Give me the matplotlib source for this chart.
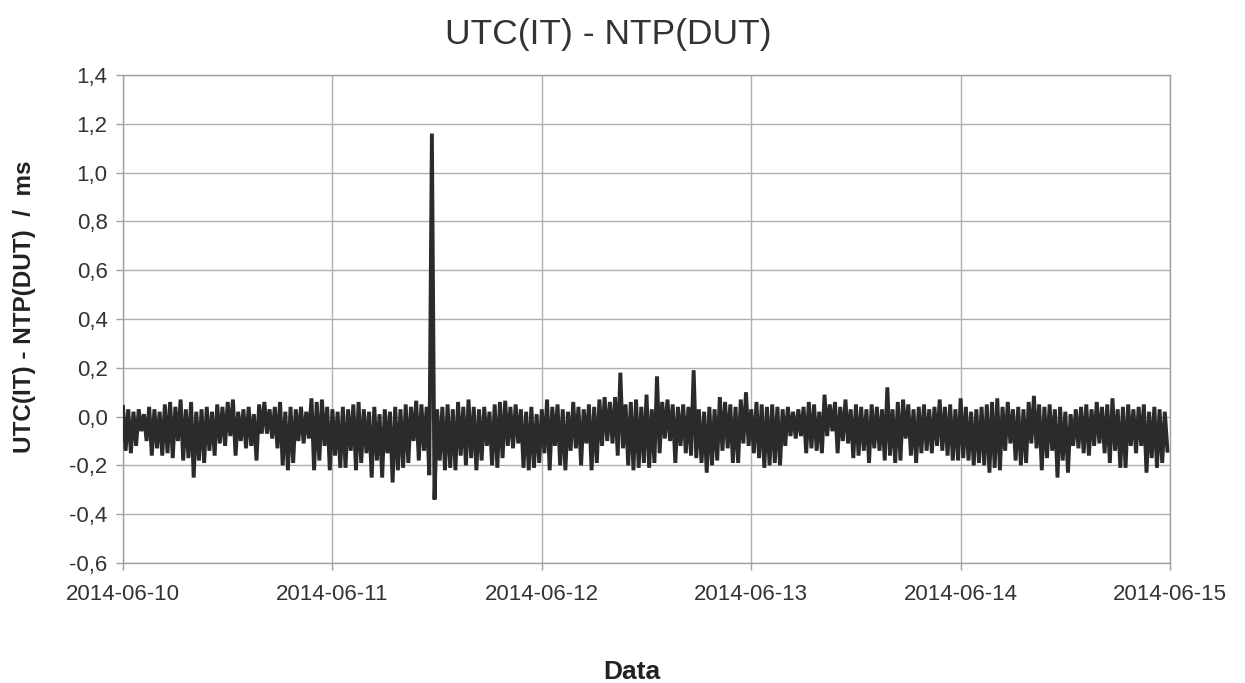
import numpy as np
import matplotlib
matplotlib.use('Agg')
import matplotlib.pyplot as plt
import matplotlib.dates as mdates
from matplotlib.ticker import FuncFormatter

plt.rcParams['font.family'] = ['Liberation Sans', 'DejaVu Sans']

# values, in ms; one upper and one lower sample per 36 min bin
upper = [0.04, 0.03, 0.02, 0.03, 0.01, 0.04, 0.03, 0.02, 0.05, 0.06,
         0.04, 0.07, 0.03, 0.06, 0.02, 0.03, 0.04, 0.02, 0.05, 0.04,
         0.06, 0.07, 0.02, 0.03, 0.04, 0.01, 0.05, 0.06, 0.03, 0.04,
         0.06, 0.02, 0.04,
         0.03, 0.04, 0.02, 0.075, 0.06, 0.07, 0.04, 0.03, 0.02, 0.04,
         0.03, 0.05, 0.06, 0.03, 0.02, 0.04, 0.01, 0.03, 0.02, 0.04,
         0.03, 0.05, 0.04, 0.065, 0.05, 0.04, 1.16, 0.03, 0.04, 0.05,
         0.03, 0.06, 0.04,
         0.07, 0.04, 0.03, 0.04, 0.02, 0.05, 0.06, 0.065, 0.04, 0.05,
         0.03, 0.02, 0.04, 0.01, 0.03, 0.07, 0.04, 0.05, 0.03, 0.02,
         0.06, 0.04, 0.03, 0.05, 0.04, 0.07, 0.08, 0.06, 0.08, 0.18,
         0.05, 0.06, 0.07, 0.04,
         0.09, 0.03, 0.165, 0.06, 0.07, 0.05, 0.04, 0.05, 0.04, 0.19,
         0.03, 0.02, 0.04, 0.03, 0.08, 0.06, 0.05, 0.04, 0.07, 0.10,
         0.03, 0.06, 0.05, 0.04, 0.05, 0.04, 0.03, 0.04, 0.02, 0.03,
         0.04, 0.06, 0.05, 0.02,
         0.09, 0.05, 0.06, 0.04, 0.07, 0.03, 0.05, 0.04, 0.03, 0.05,
         0.04, 0.03, 0.12, 0.03, 0.06, 0.07, 0.05, 0.03, 0.04, 0.05,
         0.03, 0.04, 0.07, 0.04, 0.05, 0.03, 0.075, 0.04, 0.02, 0.03,
         0.04, 0.05, 0.06,
         0.075, 0.04, 0.06, 0.03, 0.04, 0.03, 0.06, 0.085, 0.05, 0.04,
         0.05, 0.03, 0.04, 0.02, 0.01, 0.03, 0.04, 0.05, 0.03, 0.06,
         0.04, 0.05, 0.075, 0.03, 0.04, 0.05, 0.03, 0.04, 0.05, 0.02,
         0.04, 0.03, 0.02]

lower = [-0.14, -0.15, -0.12, -0.06, -0.10, -0.16, -0.13, -0.16, -0.15, -0.17,
         -0.10, -0.18, -0.17, -0.25, -0.18, -0.19, -0.14, -0.16, -0.11, -0.12,
         -0.08, -0.16, -0.10, -0.13, -0.12, -0.18, -0.07, -0.07, -0.09, -0.13,
         -0.20, -0.22, -0.19,
         -0.10, -0.11, -0.09, -0.22, -0.18, -0.12, -0.22, -0.16, -0.21, -0.21,
         -0.14, -0.22, -0.19, -0.15, -0.25, -0.18, -0.25, -0.15, -0.27, -0.22,
         -0.21, -0.19, -0.10, -0.18, -0.14, -0.24, -0.34, -0.18, -0.22, -0.21,
         -0.22, -0.16, -0.20,
         -0.17, -0.22, -0.18, -0.12, -0.20, -0.21, -0.17, -0.12, -0.13, -0.11,
         -0.21, -0.22, -0.21, -0.19, -0.15, -0.22, -0.12, -0.20, -0.22, -0.14,
         -0.13, -0.20, -0.11, -0.22, -0.19, -0.12, -0.10, -0.11, -0.16, -0.13,
         -0.20, -0.22, -0.21, -0.19,
         -0.21, -0.19, -0.15, -0.09, -0.10, -0.19, -0.12, -0.15, -0.16, -0.17,
         -0.19, -0.23, -0.20, -0.18, -0.14, -0.13, -0.19, -0.19, -0.11, -0.12,
         -0.15, -0.17, -0.21, -0.20, -0.19, -0.20, -0.12, -0.08, -0.09, -0.08,
         -0.15, -0.13, -0.14, -0.15,
         -0.08, -0.06, -0.15, -0.10, -0.11, -0.17, -0.16, -0.14, -0.19, -0.13,
         -0.14, -0.18, -0.16, -0.19, -0.18, -0.09, -0.16, -0.19, -0.15, -0.14,
         -0.15, -0.12, -0.14, -0.16, -0.18, -0.18, -0.17, -0.18, -0.20, -0.19,
         -0.20, -0.23, -0.21,
         -0.22, -0.14, -0.11, -0.18, -0.20, -0.19, -0.11, -0.13, -0.22, -0.17,
         -0.14, -0.25, -0.18, -0.23, -0.12, -0.13, -0.15, -0.16, -0.12, -0.11,
         -0.15, -0.19, -0.14, -0.21, -0.21, -0.12, -0.15, -0.12, -0.23, -0.17,
         -0.21, -0.19, -0.14]

start = np.datetime64('2014-06-10T00:00')
bin_minutes = 36
y_ticks = [-0.6, -0.4, -0.2, 0.0, 0.2, 0.4, 0.6, 0.8, 1.0, 1.2, 1.4]
day_ticks = ['2014-06-10', '2014-06-11', '2014-06-12', '2014-06-13', '2014-06-14', '2014-06-15']

# interleave the two samples of every bin into one time series
n = len(upper)
t = []
v = []
for i in range(n):
    t.append(start + np.timedelta64(i * bin_minutes, 'm'))
    v.append(upper[i])
    t.append(start + np.timedelta64(i * bin_minutes + bin_minutes // 2, 'm'))
    v.append(lower[i])
t = np.array(t)

fig = plt.figure(figsize=(12.45, 6.83), dpi=100)
ax = fig.add_axes([0.0988, 0.1757, 0.8410, 0.7145])

ax.plot(t, v, color='#2b2b2b', lw=2.8, solid_joinstyle='miter', zorder=3)

ax.set_ylim(-0.6, 1.4)
ax.set_xlim(np.datetime64(day_ticks[0]), np.datetime64(day_ticks[-1]))
ax.set_yticks(y_ticks)
ax.yaxis.set_major_formatter(FuncFormatter(lambda y, p: ('%.1f' % y).replace('.', ',').replace('-0,0', '0,0')))
ax.set_xticks([np.datetime64(d) for d in day_ticks])
ax.xaxis.set_major_formatter(mdates.DateFormatter('%Y-%m-%d'))

ax.grid(True, color='#b0b0b0', lw=1.0, zorder=0)
for s in ax.spines.values():
    s.set_color('#a0a0a0')
    s.set_linewidth(1.0)
ax.tick_params(axis='both', colors='#a0a0a0', labelcolor='#333333', labelsize=16, length=5, width=1.0)
ax.tick_params(axis='y', pad=6)
ax.tick_params(axis='x', pad=10)

ax.set_ylabel('UTC(IT) - NTP(DUT)  /  ms', fontsize=17.5, fontweight='bold', color='#222222')
ax.yaxis.set_label_coords(-0.083, 0.525)

fig.text(0.489, 0.950, 'UTC(IT) - NTP(DUT)', fontsize=25.5, ha='center', va='center', color='#333333')
fig.text(0.5076, 1 - 672 / 683, 'Data', fontsize=19, fontweight='bold', ha='center', va='center', color='#222222')

fig.savefig('out.png', dpi=100, facecolor='white')
